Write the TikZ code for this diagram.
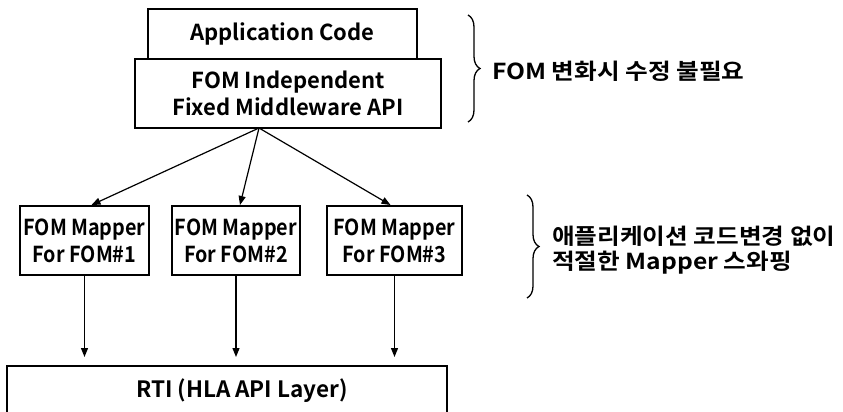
\documentclass[tikz,border=0pt]{standalone}
\usepackage{fontspec}
\setmainfont{Noto Sans CJK KR}[BoldFont={Noto Sans CJK KR Bold}]
\newfontfamily\krwide{Noto Sans CJK KR Bold}[FakeStretch=1.12]
\newfontfamily\latnarrow{Noto Sans CJK KR Bold}[FakeStretch=0.9]
\usetikzlibrary{arrows.meta,decorations.pathreplacing}

\begin{document}
\begin{tikzpicture}[x=1pt,y=-1pt,
  box/.style={draw,line width=2pt,inner sep=0pt,align=center,
    font=\bfseries\fontsize{22}{27}\selectfont},
  mapbox/.style={box,minimum height=69pt,font=\latnarrow\fontsize{22}{27}\selectfont},
  conn/.style={line width=1.2pt,-{Triangle[length=9pt,width=7pt]}},
  brc/.style={decorate,decoration={brace,amplitude=12pt},line width=1.3pt},
  note/.style={font=\krwide\fontsize{22}{25}\selectfont,align=left,anchor=west,inner sep=0pt}]
\useasboundingbox (0,0) rectangle (843,412);

% middleware stack
\node[box,minimum width=269pt,minimum height=50pt] (app) at (282.5,34) {Application Code};
\node[box,minimum width=306pt,minimum height=69pt] (fom) at (288,93.5)
  {FOM Independent\\Fixed Middleware API};

% FOM mappers
\node[mapbox,minimum width=129pt] (m1) at (84.5,240.5) {FOM Mapper\\For FOM\#1};
\node[mapbox,minimum width=128pt] (m2) at (236,240.5) {FOM Mapper\\For FOM\#2};
\node[mapbox,minimum width=135pt] (m3) at (394.5,240.5) {FOM Mapper\\For FOM\#3};

% RTI layer (box runs past the lower edge)
\node[box,minimum width=440pt,minimum height=54pt,anchor=north] (rti) at (227,365) {};
\node[font=\bfseries\fontsize{22.5}{27}\selectfont,inner sep=0pt] (rtitext) at (242,391)
  {RTI (HLA API Layer)};

% connectors
\coordinate (src) at (259,128);
\draw[conn] (src) -- ([xshift=7pt]m1.north);
\draw[conn] (src) -- ([xshift=4pt]m2.north);
\draw[conn] (src) -- ([xshift=-4pt]m3.north);
\draw[conn,shorten >=8pt] (m1.south) -- (m1.south |- rti.north);
\draw[conn,shorten >=8pt] (m2.south) -- (m2.south |- rti.north);
\draw[conn,shorten >=8pt] (m3.south) -- (m3.south |- rti.north);

% braces and notes
\coordinate (b1a) at (468,15);
\coordinate (b1b) at (468,122);
\draw[brc] (b1a) -- (b1b);
\node[note] (n1) at (492,71) {FOM 변화시 수정 불필요};

\coordinate (b2a) at (527,195);
\coordinate (b2b) at (527,298);
\draw[brc] (b2a) -- (b2b);
\node[note] (n2) at (552,250) {애플리케이션 코드변경 없이\\적절한 Mapper 스와핑};
\end{tikzpicture}
\end{document}
